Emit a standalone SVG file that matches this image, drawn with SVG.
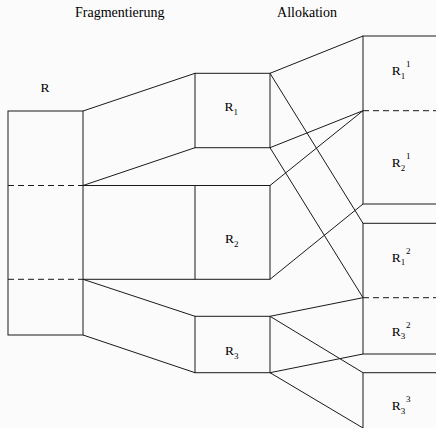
<svg xmlns="http://www.w3.org/2000/svg" width="436" height="428" viewBox="0 0 436 428">
<style>
.s{fill:none;stroke:#1a1a1a;stroke-width:1}
.d{fill:none;stroke:#1a1a1a;stroke-width:1;stroke-dasharray:6 4}
.t{font-family:"Times New Roman","Liberation Serif","Noto Serif","DejaVu Serif",serif;font-size:13.5px;fill:#000}
.h{text-anchor:middle;font-size:14px}
.i{font-size:9px}
</style>
<rect width="436" height="428" fill="#fbfbfb"/>
<g id="headers">
<text class="t h" x="119.7" y="17">Fragmentierung</text>
<text class="t h" x="307" y="17">Allokation</text>
</g>
<g id="node-R">
<rect class="s" x="8" y="111" width="75" height="224"/>
<line class="d" x1="8" y1="185.5" x2="83" y2="185.5"/>
<line class="d" x1="8" y1="279.3" x2="83" y2="279.3"/>
<text class="t" x="45" y="92" text-anchor="middle">R</text>
</g>
<g id="node-R1">
<rect class="s" x="195" y="73.3" width="75" height="74.4"/>
<text class="t" x="224.5" y="111">R<tspan class="i" dy="3.5">1</tspan></text>
</g>
<g id="node-R2">
<rect class="s" x="195" y="185.5" width="75" height="93.8"/>
<text class="t" x="225" y="243.3">R<tspan class="i" dy="3.5">2</tspan></text>
</g>
<g id="node-R3">
<rect class="s" x="195" y="316.3" width="75" height="56.4"/>
<text class="t" x="225" y="355">R<tspan class="i" dy="3.5">3</tspan></text>
</g>
<g id="node-R11-R21">
<rect class="s" x="363" y="36" width="100" height="168"/>
<line class="d" x1="363" y1="110.7" x2="436" y2="110.7"/>
<text class="t" x="391.7" y="75">R<tspan class="i" dy="3.5">1</tspan><tspan class="i" x="406" dy="-11.5">1</tspan></text>
<text class="t" x="391.7" y="167.3">R<tspan class="i" dy="3.5">2</tspan><tspan class="i" x="406" dy="-11.5">1</tspan></text>
</g>
<g id="node-R12-R32">
<rect class="s" x="363" y="223.3" width="100" height="130.7"/>
<line class="d" x1="363" y1="297.7" x2="436" y2="297.7"/>
<text class="t" x="391.7" y="261.7">R<tspan class="i" dy="3.5">1</tspan><tspan class="i" x="406" dy="-11.5">2</tspan></text>
<text class="t" x="391.7" y="335.7">R<tspan class="i" dy="3.5">3</tspan><tspan class="i" x="406" dy="-11.5">2</tspan></text>
</g>
<g id="node-R33">
<rect class="s" x="363" y="372.7" width="100" height="60"/>
<text class="t" x="391.7" y="410">R<tspan class="i" dy="3.5">3</tspan><tspan class="i" x="406" dy="-11.5">3</tspan></text>
</g>
<g id="connectors" class="s">
<line x1="83" y1="111" x2="195" y2="73.3"/>
<line x1="83" y1="185.5" x2="195" y2="147.7"/>
<line x1="83" y1="185.5" x2="195" y2="185.5"/>
<line x1="83" y1="279.3" x2="195" y2="279.3"/>
<line x1="83" y1="279.3" x2="195" y2="316.3"/>
<line x1="83" y1="335" x2="195" y2="372.7"/>
<line x1="270" y1="73.3" x2="363" y2="36"/>
<line x1="270" y1="73.3" x2="363" y2="223.3"/>
<line x1="270" y1="147.7" x2="363" y2="110.7"/>
<line x1="270" y1="147.7" x2="363" y2="297.7"/>
<line x1="270" y1="185.5" x2="363" y2="110.7"/>
<line x1="270" y1="279.3" x2="363" y2="204"/>
<line x1="270" y1="316.3" x2="363" y2="297.7"/>
<line x1="270" y1="316.3" x2="363" y2="372.7"/>
<line x1="270" y1="372.7" x2="363" y2="354"/>
<line x1="270" y1="372.7" x2="363" y2="428"/>
</g>
</svg>
